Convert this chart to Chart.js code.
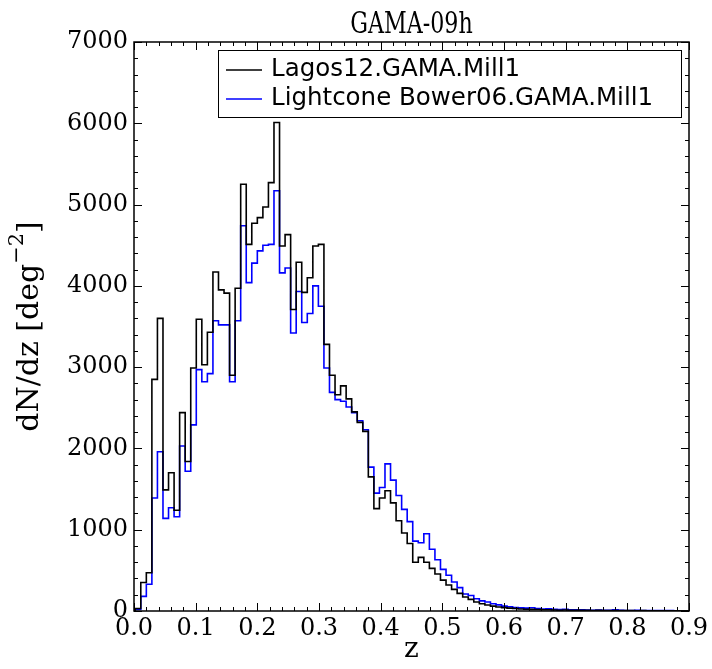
<!DOCTYPE html>
<html lang="en">

<head>
  <meta charset="UTF-8">
  <title>GAMA-09h</title>
  <style>
    body { margin: 0; background: #fff; }
  </style>
</head>

<body>
  <canvas id="myChart" width="712" height="669"></canvas>

<script src="https://cdn.jsdelivr.net/npm/chart.js"></script>
<script>
  // histogram: 100 bins of 0.009 starting just after z = 0
  const zMin = 0.002;
  const binWidth = 0.009;

  const lagos = [
    30, 350, 470, 2850, 3600, 1490, 1700, 1240, 2440, 1840,
    2990, 3590, 3030, 3430, 4170, 3950, 3910, 2900, 3970, 5250,
    4510, 4770, 4840, 4970, 5270, 6010, 4490, 4630, 3710, 4290,
    3920, 4100, 4490, 4510, 3280, 2900, 2660, 2770, 2610, 2450,
    2320, 2210, 1650, 1260, 1390, 1480, 1330, 1110, 960, 830,
    600, 660, 600, 525, 455, 380, 320, 266, 217, 172,
    143, 110, 90, 74, 60, 50, 42, 35, 30, 25,
    22, 20, 18, 15, 16, 12, 10, 12, 10, 8,
    10, 8, 6, 8, 6, 5, 6, 4, 5, 4,
    3, 4, 3, 3, 2, 3, 2, 2, 3, 2
  ];

  const bower = [
    20, 180, 330, 1390, 1960, 1140, 1270, 1160, 2030, 1720,
    2290, 2970, 2820, 2920, 3570, 3520, 3520, 2820, 3570, 4740,
    4040, 4280, 4430, 4500, 4510, 5170, 4160, 4220, 3420, 3930,
    3550, 3660, 4000, 3750, 2990, 2690, 2600, 2580, 2510, 2440,
    2340, 2230, 1770, 1450, 1520, 1810, 1610, 1420, 1250, 1100,
    860, 840, 950, 760, 630, 512, 439, 357, 287, 210,
    190, 150, 125, 110, 90, 75, 60, 52, 42, 38,
    35, 40, 30, 25, 28, 20, 18, 22, 15, 14,
    15, 12, 10, 12, 9, 8, 14, 8, 7, 6,
    8, 5, 6, 4, 5, 4, 4, 3, 3, 3
  ];

  const xTicks = [0, 0.1, 0.2, 0.3, 0.4, 0.5, 0.6, 0.7, 0.8, 0.9];
  const yTicks = [0, 1000, 2000, 3000, 4000, 5000, 6000, 7000];
  const nomes = ['Lagos12.GAMA.Mill1', 'Lightcone Bower06.GAMA.Mill1'];
  const cores = ['#000000', '#0000ff'];

  const serif = "'DejaVu Serif', serif";
  const sans = "'DejaVu Sans', sans-serif";

  // turn bin values into step points (value holds until next edge)
  function degraus(valores) {
    const pts = [{ x: zMin, y: 0 }];
    valores.forEach((v, i) => pts.push({ x: zMin + i * binWidth, y: v }));
    const fim = zMin + valores.length * binWidth;
    pts.push({ x: fim, y: valores[valores.length - 1] });
    pts.push({ x: fim, y: 0 });
    return pts;
  }

  // frame, inward ticks on all sides, title, y label and legend
  const moldura = {
    id: 'moldura',
    afterDatasetsDraw(chart) {
      const { ctx, chartArea: a, scales: { x, y } } = chart;
      ctx.save();
      ctx.strokeStyle = '#000';
      ctx.lineWidth = 1;
      ctx.beginPath();
      for (let i = 0; i <= 45; i++) {
        const px = Math.round(x.getPixelForValue(i * 0.02)) + 0.5;
        const len = i % 5 === 0 ? 8 : 4;
        ctx.moveTo(px, a.bottom); ctx.lineTo(px, a.bottom - len);
        ctx.moveTo(px, a.top); ctx.lineTo(px, a.top + len);
      }
      for (let i = 0; i <= 35; i++) {
        const py = Math.round(y.getPixelForValue(i * 200)) + 0.5;
        const len = i % 5 === 0 ? 8 : 4;
        ctx.moveTo(a.left, py); ctx.lineTo(a.left + len, py);
        ctx.moveTo(a.right, py); ctx.lineTo(a.right - len, py);
      }
      ctx.stroke();
      ctx.lineWidth = 1.5;
      ctx.strokeRect(a.left, a.top, a.right - a.left, a.bottom - a.top);

      // title (narrow, tall serif as in the original)
      ctx.save();
      ctx.fillStyle = '#000';
      ctx.font = '30px ' + serif;
      ctx.textAlign = 'center';
      ctx.textBaseline = 'alphabetic';
      ctx.translate((a.left + a.right) / 2, 33);
      ctx.scale(0.74, 1);
      ctx.fillText('GAMA-09h', 0, 0);
      ctx.restore();

      // y label with superscript
      ctx.save();
      ctx.fillStyle = '#000';
      ctx.translate(30, (a.top + a.bottom) / 2);
      ctx.rotate(-Math.PI / 2);
      const p1 = 'dN/dz [deg', p2 = '\u22122', p3 = ']';
      ctx.font = '30px ' + serif;
      const w1 = ctx.measureText(p1).width, w3 = ctx.measureText(p3).width;
      ctx.font = '21px ' + serif;
      const w2 = ctx.measureText(p2).width;
      const sx = -(w1 + w2 + w3) / 2;
      ctx.textAlign = 'left';
      ctx.textBaseline = 'middle';
      ctx.font = '30px ' + serif;
      ctx.fillText(p1, sx, 0);
      ctx.font = '21px ' + serif;
      ctx.fillText(p2, sx + w1, -12);
      ctx.font = '30px ' + serif;
      ctx.fillText(p3, sx + w1 + w2, 0);
      ctx.restore();

      // legend
      ctx.lineWidth = 1;
      ctx.fillStyle = '#fff';
      ctx.fillRect(218, 50, 463, 67);
      ctx.strokeStyle = '#000';
      ctx.strokeRect(218.5, 50.5, 463, 67);
      ctx.font = '24.5px ' + sans;
      ctx.textAlign = 'left';
      ctx.textBaseline = 'middle';
      nomes.forEach((nome, i) => {
        const ly = 70 + i * 29;
        ctx.strokeStyle = cores[i];
        ctx.lineWidth = 1.5;
        ctx.beginPath();
        ctx.moveTo(226, ly); ctx.lineTo(262, ly);
        ctx.stroke();
        ctx.fillStyle = '#000';
        ctx.fillText(nome, 271, ly);
      });
      ctx.restore();
    }
  };

  new Chart(document.getElementById('myChart'), {
    type: 'line',
    data: {
      datasets: [
        {
          label: nomes[0],
          data: degraus(lagos),
          borderColor: cores[0],
          borderWidth: 1.6,
          pointRadius: 0,
          stepped: true,
          fill: false
        },
        {
          label: nomes[1],
          data: degraus(bower),
          borderColor: cores[1],
          borderWidth: 1.6,
          pointRadius: 0,
          stepped: true,
          fill: false
        }
      ]
    },
    options: {
      responsive: false,
      animation: false,
      devicePixelRatio: 1,
      layout: { padding: { top: 42, right: 23, left: 0, bottom: 0 } },
      scales: {
        x: {
          type: 'linear',
          min: 0,
          max: 0.9,
          afterBuildTicks: s => { s.ticks = xTicks.map(v => ({ value: v })); },
          afterFit: s => { s.height = 58; },
          ticks: {
            autoSkip: false,
            maxRotation: 0,
            padding: 3,
            color: '#000',
            font: { family: serif, size: 24 },
            callback: v => v.toFixed(1)
          },
          grid: { display: false, drawTicks: false },
          border: { display: false },
          title: {
            display: true,
            text: 'z',
            color: '#000',
            font: { family: serif, size: 28 },
            padding: { top: 0, bottom: 2 }
          }
        },
        y: {
          min: 0,
          max: 7000,
          afterBuildTicks: s => { s.ticks = yTicks.map(v => ({ value: v })); },
          afterFit: s => { s.width = 134; },
          ticks: {
            padding: 6,
            color: '#000',
            font: { family: serif, size: 24 },
            callback: v => String(v)
          },
          grid: { display: false, drawTicks: false },
          border: { display: false }
        }
      },
      plugins: {
        legend: { display: false },
        tooltip: { enabled: false },
        title: { display: false }
      }
    },
    plugins: [moldura]
  });
</script>
</body>

</html>
